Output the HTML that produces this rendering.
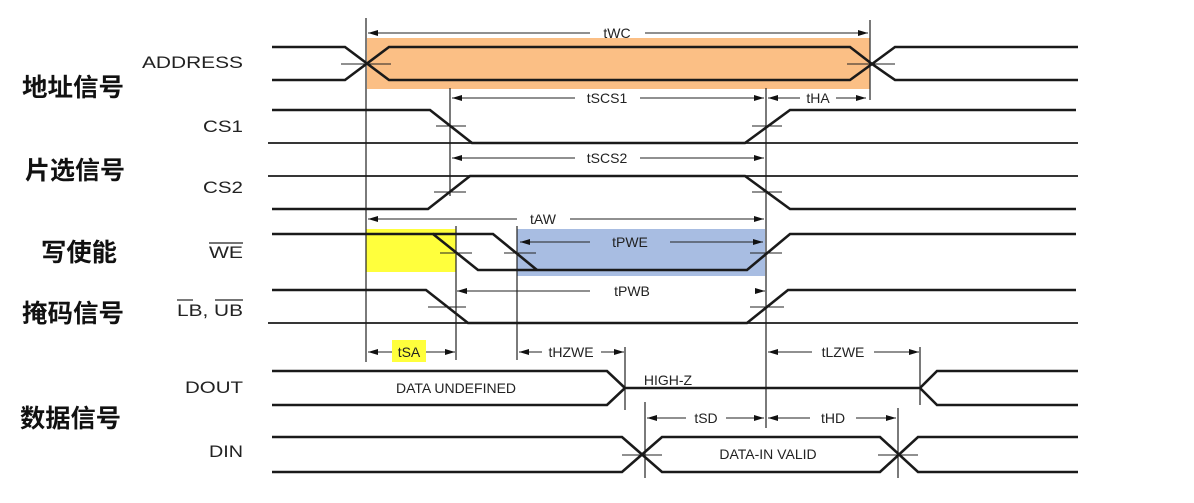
<!DOCTYPE html>
<html><head><meta charset="utf-8"><style>
html,body{margin:0;padding:0;background:#fff;}
svg{display:block;}
.s{font-family:"Liberation Sans",sans-serif;font-size:14px;fill:#222;}
.c{font-family:"Liberation Sans","Noto Sans CJK SC",sans-serif;font-size:25px;font-weight:bold;fill:#111;}
</style></head><body>
<svg width="1194" height="503" viewBox="0 0 1194 503" xmlns="http://www.w3.org/2000/svg">
<defs>
<marker id="a" viewBox="0 0 10 6" refX="10" refY="3" markerWidth="12" markerHeight="6" markerUnits="userSpaceOnUse" orient="auto-start-reverse"><path d="M0,0L10,3L0,6z" fill="#111"/></marker>
</defs>
<rect x="367" y="38" width="503" height="51" fill="#fbbf85"/>
<rect x="366" y="229" width="90" height="43" fill="#ffff3c"/>
<rect x="517" y="229" width="248" height="47" fill="#a8bde2"/>
<rect x="392" y="340" width="34" height="22" fill="#ffff3c"/>

<g stroke="#222" stroke-width="1.2">
<line x1="366" y1="18" x2="366" y2="362"/>
<line x1="870" y1="20" x2="870" y2="100"/>
<line x1="450" y1="88" x2="450" y2="196"/>
<line x1="766" y1="88" x2="766" y2="428"/>
<line x1="456" y1="226" x2="456" y2="360"/>
<line x1="517" y1="226" x2="517" y2="360"/>
<line x1="625" y1="347" x2="625" y2="410"/>
<line x1="920" y1="347" x2="920" y2="405"/>
<line x1="645" y1="402" x2="645" y2="478"/>
<line x1="898" y1="408" x2="898" y2="478"/>
</g>

<g stroke="#222" stroke-width="1" marker-start="url(#a)" marker-end="url(#a)">
<line x1="368" y1="33" x2="590" y2="33" marker-end="none"/><line x1="645" y1="33" x2="868" y2="33" marker-start="none"/>
<line x1="452" y1="98" x2="575" y2="98" marker-end="none"/><line x1="640" y1="98" x2="764" y2="98" marker-start="none"/>
<line x1="768" y1="98" x2="800" y2="98" marker-end="none"/><line x1="836" y1="98" x2="866" y2="98" marker-start="none"/>
<line x1="452" y1="158" x2="575" y2="158" marker-end="none"/><line x1="640" y1="158" x2="764" y2="158" marker-start="none"/>
<line x1="368" y1="219" x2="517" y2="219" marker-end="none"/><line x1="570" y1="219" x2="764" y2="219" marker-start="none"/>
<line x1="520" y1="242" x2="590" y2="242" marker-end="none"/><line x1="670" y1="242" x2="763" y2="242" marker-start="none"/>
<line x1="457" y1="291" x2="590" y2="291" marker-end="none"/><line x1="755" y1="291" x2="765" y2="291" marker-start="none"/>
<line x1="368" y1="352" x2="392" y2="352" marker-end="none"/><line x1="426" y1="352" x2="455" y2="352" marker-start="none"/>
<line x1="519" y1="352" x2="542" y2="352" marker-end="none"/><line x1="601" y1="352" x2="624" y2="352" marker-start="none"/>
<line x1="768" y1="352" x2="812" y2="352" marker-end="none"/><line x1="874" y1="352" x2="919" y2="352" marker-start="none"/>
<line x1="647" y1="418" x2="686" y2="418" marker-end="none"/><line x1="726" y1="418" x2="764" y2="418" marker-start="none"/>
<line x1="768" y1="418" x2="810" y2="418" marker-end="none"/><line x1="856" y1="418" x2="896" y2="418" marker-start="none"/>
</g>

<g stroke="#222" stroke-width="1">
<line x1="341" y1="64" x2="391" y2="64"/><line x1="847" y1="64" x2="895" y2="64"/>
<line x1="436" y1="126" x2="466" y2="126"/><line x1="752" y1="126" x2="782" y2="126"/>
<line x1="434" y1="192" x2="466" y2="192"/><line x1="752" y1="192" x2="782" y2="192"/>
<line x1="440" y1="253" x2="472" y2="253"/><line x1="504" y1="253" x2="536" y2="253"/><line x1="750" y1="253" x2="782" y2="253"/>
<line x1="428" y1="307" x2="466" y2="307"/><line x1="750" y1="307" x2="784" y2="307"/>
<line x1="622" y1="455" x2="662" y2="455"/><line x1="878" y1="455" x2="918" y2="455"/>
</g>

<g fill="none" stroke="#1a1a1a" stroke-width="2.6" stroke-linejoin="miter">
<polyline points="272,47 345,47 389,80 850,80 872,64 895,47 1078,47"/>
<polyline points="272,80 345,80 389,47 850,47 872,64 895,80 1078,80"/>
<polyline points="272,110 430,110 472,143 745,143 790,110 1076,110"/>
<line x1="268" y1="143" x2="1078" y2="143" stroke-width="1.8"/>
<line x1="268" y1="176" x2="1078" y2="176" stroke-width="1.8"/>
<polyline points="272,209 428,209 470,176 745,176 790,209 1076,209"/>
<polyline points="272,234 433,234 478,270 747,270 790,234 1076,234"/>
<polyline points="433,234 493,234 537,270"/>
<polyline points="272,290 426,290 468,323 747,323 788,290 1076,290"/>
<line x1="268" y1="323" x2="1078" y2="323" stroke-width="1.8"/>
<polyline points="272,371 607,371 625,388 607,405 272,405"/>
<polyline points="625,388 920,388 937,371 1078,371"/>
<polyline points="920,388 937,405 1078,405"/>
<polyline points="272,437 622,437 662,472 880,472 918,437 1078,437"/>
<polyline points="272,472 622,472 662,437 880,437 918,472 1078,472"/>
</g>

<g class="s" text-anchor="middle">
<text x="617" y="38">tWC</text>
<text x="607" y="103">tSCS1</text>
<text x="818" y="103">tHA</text>
<text x="607" y="163">tSCS2</text>
<text x="543" y="224">tAW</text>
<text x="630" y="247">tPWE</text>
<text x="632" y="296">tPWB</text>
<text x="409" y="357">tSA</text>
<text x="571" y="357">tHZWE</text>
<text x="843" y="357">tLZWE</text>
<text x="706" y="423">tSD</text>
<text x="833" y="423">tHD</text>
<text x="456" y="393">DATA UNDEFINED</text>
<text x="768" y="459">DATA-IN VALID</text>
<text x="668" y="385">HIGH-Z</text>
</g>

<g class="s" style="font-size:16.5px" lengthAdjust="spacingAndGlyphs">
<text x="142" y="68" textLength="101" lengthAdjust="spacingAndGlyphs">ADDRESS</text>
<text x="203" y="132" textLength="40" lengthAdjust="spacingAndGlyphs">CS1</text>
<text x="203" y="193" textLength="40" lengthAdjust="spacingAndGlyphs">CS2</text>
<text x="209" y="258" textLength="34" lengthAdjust="spacingAndGlyphs">WE</text>
<text x="177" y="316" textLength="66" lengthAdjust="spacingAndGlyphs">LB, UB</text>
<text x="185" y="393" textLength="58" lengthAdjust="spacingAndGlyphs">DOUT</text>
<text x="209" y="457" textLength="34" lengthAdjust="spacingAndGlyphs">DIN</text>
</g>
<g stroke="#222" stroke-width="1.2">
<line x1="209" y1="243" x2="243" y2="243"/>
<line x1="177" y1="300" x2="193" y2="300"/>
<line x1="215" y1="300" x2="243" y2="300"/>
</g>

<g class="c">
<text x="22" y="96" textLength="102" lengthAdjust="spacingAndGlyphs">地址信号</text>
<text x="25" y="179" textLength="100" lengthAdjust="spacingAndGlyphs">片选信号</text>
<text x="41" y="261" textLength="76" lengthAdjust="spacingAndGlyphs">写使能</text>
<text x="22" y="322" textLength="102" lengthAdjust="spacingAndGlyphs">掩码信号</text>
<text x="20" y="427" textLength="101" lengthAdjust="spacingAndGlyphs">数据信号</text>
</g>
</svg>
</body></html>
